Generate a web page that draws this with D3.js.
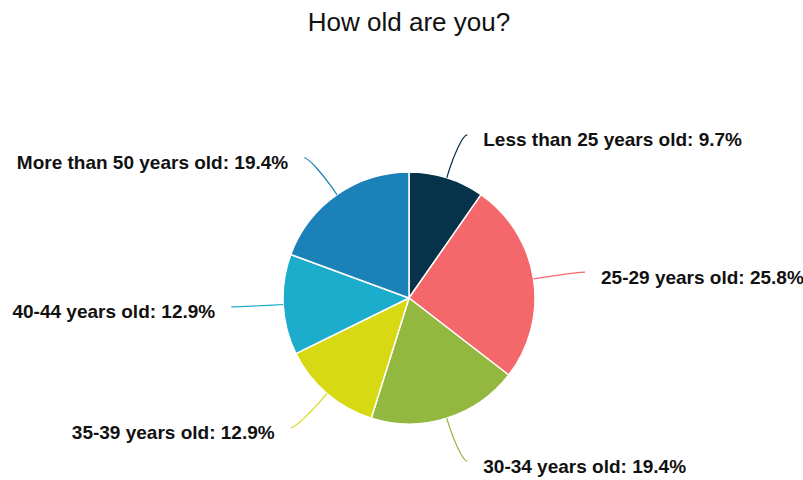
<!DOCTYPE html>
<html>
<head>
<meta charset="utf-8">
<script src="https://cdn.jsdelivr.net/npm/d3@7"></script>
<style>
  html, body { margin: 0; padding: 0; background: #fff; }
  svg { display: block; }
</style>
</head>
<body>
<svg id="chart" width="803" height="480"></svg>
<script>
// Survey answers: age groups and their share of respondents (%)
const categories = [
  "Less than 25 years old",
  "25-29 years old",
  "30-34 years old",
  "35-39 years old",
  "40-44 years old",
  "More than 50 years old"
];
const values = [9.7, 25.8, 19.4, 12.9, 12.9, 19.4];
const colors = ["#06324a", "#f4676a", "#93b83f", "#d7d912", "#1cadcd", "#1b81b9"];
const title = "How old are you?";

const width = 803, height = 480;
const cx = 409, cy = 298, radius = 126;
const labelRadius = 171;   // circle the connector ends sit on
const connectorGap = 7;    // extra horizontal push of the connector end
const textGap = 16;        // space between connector end and label text
const breakOffset = 10;    // where the connector leaves the radial direction

const svg = d3.select("#chart");

svg.append("text")
  .attr("x", cx)
  .attr("y", 31)
  .attr("text-anchor", "middle")
  .attr("font-family", "'Liberation Sans', Arial, sans-serif")
  .attr("font-size", 26)
  .attr("fill", "#111")
  .text(title);

const data = categories.map((c, i) => ({ category: c, value: values[i], color: colors[i] }));

const pie = d3.pie().sort(null).value(d => d.value);
const arcs = pie(data);
const arc = d3.arc().innerRadius(0).outerRadius(radius);

const g = svg.append("g").attr("transform", `translate(${cx},${cy})`);

g.selectAll("path.slice")
  .data(arcs)
  .join("path")
  .attr("class", "slice")
  .attr("d", arc)
  .attr("fill", d => d.data.color)
  .attr("stroke", "#ffffff")
  .attr("stroke-width", 1.5)
  .attr("stroke-linejoin", "round");

// Label geometry derived from each slice's mid angle
const layout = arcs.map(a => {
  const ang = (a.startAngle + a.endAngle) / 2;
  const sx = Math.sin(ang), sy = -Math.cos(ang);
  const right = sx >= 0;
  const touch = [radius * sx, radius * sy];
  const brk = [(radius + breakOffset) * sx, (radius + breakOffset) * sy];
  const ly = labelRadius * sy;
  const lxBase = Math.sqrt(Math.max(0, labelRadius * labelRadius - ly * ly));
  const lx = right ? lxBase + connectorGap : -lxBase - connectorGap;
  return { a, right, touch, brk, lx, ly };
});

g.selectAll("path.connector")
  .data(layout)
  .join("path")
  .attr("class", "connector")
  .attr("fill", "none")
  .attr("stroke", d => d.a.data.color)
  .attr("stroke-width", 1.2)
  .attr("d", d => {
    const c1x = d.right ? d.lx - 5 : d.lx + 5;
    const c2 = [2 * d.brk[0] - d.touch[0], 2 * d.brk[1] - d.touch[1]];
    return `M${d.lx},${d.ly}C${c1x},${d.ly} ${c2[0]},${c2[1]} ${d.brk[0]},${d.brk[1]}L${d.touch[0]},${d.touch[1]}`;
  });

g.selectAll("text.label")
  .data(layout)
  .join("text")
  .attr("class", "label")
  .attr("x", d => d.right ? d.lx + textGap : d.lx - textGap)
  .attr("y", d => d.ly + 11.5)
  .attr("text-anchor", d => d.right ? "start" : "end")
  .attr("font-family", "'Liberation Sans', Arial, sans-serif")
  .attr("font-size", 19)
  .attr("font-weight", "bold")
  .attr("fill", "#111")
  .text(d => `${d.a.data.category}: ${d.a.data.value}%`);
</script>
</body>
</html>
